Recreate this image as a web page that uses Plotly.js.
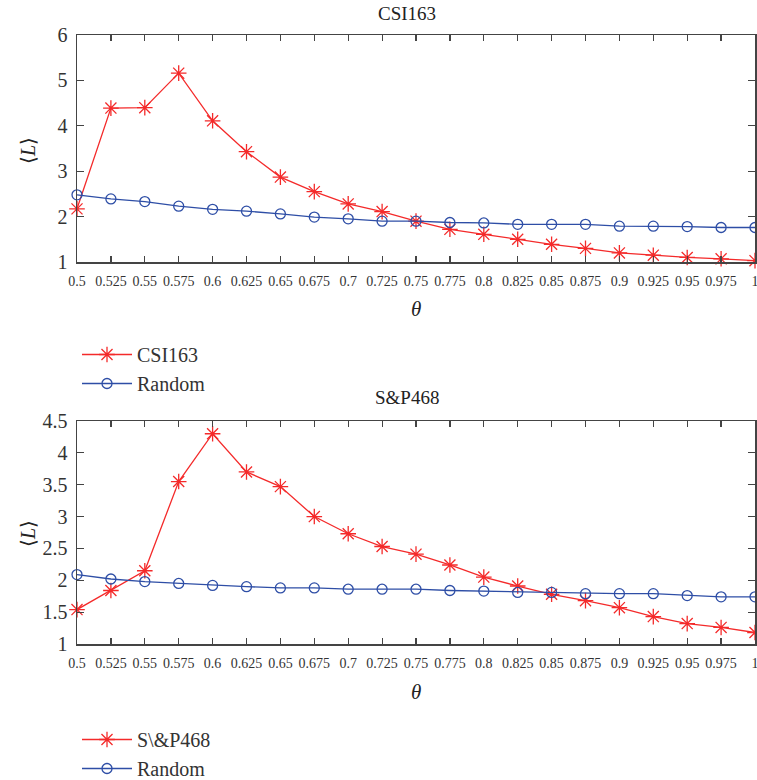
<!DOCTYPE html>
<html>
<head>
<meta charset="utf-8">
<script src="https://cdn.plot.ly/plotly-3.0.1.min.js"></script>
<style>html,body{margin:0;padding:0;background:#fff;}#chart{width:757px;height:780px;}</style>
</head>
<body>
<div id="chart"></div>
<script>
// ---- data ----
const theta = [0.5, 0.525, 0.55, 0.575, 0.6, 0.625, 0.65, 0.675, 0.7, 0.725, 0.75, 0.775, 0.8, 0.825, 0.85, 0.875, 0.9, 0.925, 0.95, 0.975, 1.0];
const thetaLabels = ["0.5","0.525","0.55","0.575","0.6","0.625","0.65","0.675","0.7","0.725","0.75","0.775","0.8","0.825","0.85","0.875","0.9","0.925","0.95","0.975","1"];
const csiValues = [2.17, 4.39, 4.40, 5.16, 4.11, 3.43, 2.87, 2.55, 2.28, 2.11, 1.90, 1.72, 1.61, 1.50, 1.39, 1.30, 1.20, 1.15, 1.10, 1.07, 1.03];
const csiRandom = [2.48, 2.39, 2.33, 2.23, 2.16, 2.12, 2.06, 1.99, 1.95, 1.90, 1.90, 1.87, 1.86, 1.83, 1.83, 1.83, 1.79, 1.79, 1.78, 1.76, 1.76];
const spValues = [1.54, 1.84, 2.15, 3.55, 4.30, 3.70, 3.47, 3.00, 2.73, 2.53, 2.41, 2.24, 2.05, 1.91, 1.78, 1.68, 1.57, 1.43, 1.32, 1.26, 1.18];
const spRandom = [2.09, 2.02, 1.98, 1.95, 1.92, 1.90, 1.88, 1.88, 1.86, 1.86, 1.86, 1.84, 1.83, 1.81, 1.81, 1.79, 1.79, 1.79, 1.76, 1.74, 1.74];
const topYTicks = [1, 2, 3, 4, 5, 6];
const botYTicks = [1, 1.5, 2, 2.5, 3, 3.5, 4, 4.5];
const topTitle = "CSI163";
const botTitle = "S&P468";
const topNames = ["CSI163", "Random"];
const botNames = ["S\\&P468", "Random"];

// ---- styles ----
const RED = "#f42a2a";
const BLUE = "#2e4ea6";
const AX = "#444444";
const FONT = "Liberation Serif, serif";
const W = 757, H = 780;
const px2y = p => 1 - p / H;

function series(x, y, name, color, symbol, size, xa, ya, legend) {
  return {
    x: x, y: y, name: name, type: "scatter", mode: "lines+markers",
    xaxis: xa, yaxis: ya, legend: legend, cliponaxis: false,
    line: {color: color, width: 1.3},
    marker: {symbol: symbol, size: size, color: color, line: {color: color, width: 1.3}}
  };
}

const data = [
  series(theta, csiValues, topNames[0], RED, "asterisk-open", 13, "x", "y", "legend"),
  series(theta, csiRandom, topNames[1], BLUE, "circle-open", 10, "x", "y", "legend"),
  series(theta, spValues, botNames[0], RED, "asterisk-open", 13, "x2", "y2", "legend2"),
  series(theta, spRandom, botNames[1], BLUE, "circle-open", 10, "x2", "y2", "legend2")
];

function xaxis(anchor) {
  return {
    anchor: anchor, domain: [0, 1], range: [0.5, 1.0],
    tickmode: "array", tickvals: theta, ticktext: thetaLabels,
    ticks: "inside", ticklen: 6, tickwidth: 1.2, tickcolor: AX,
    showline: true, linecolor: AX, linewidth: 1.5, mirror: "ticks",
    showgrid: false, zeroline: false, ticklabeloverflow: "allow",
    tickfont: {family: FONT, size: 14, color: "#333"}, ticklabelstandoff: 6
  };
}
function yaxis(anchor, dom, range, ticks) {
  return {
    anchor: anchor, domain: dom, range: range,
    tickmode: "array", tickvals: ticks,
    ticks: "inside", ticklen: 7, tickwidth: 1.2, tickcolor: AX,
    showline: true, linecolor: AX, linewidth: 1.5, mirror: "ticks",
    showgrid: false, zeroline: false,
    tickfont: {family: FONT, size: 20, color: "#333"}, ticklabelstandoff: 4
  };
}

const layout = {
  width: W, height: H,
  margin: {l: 77, r: 2, t: 0, b: 0, autoexpand: false},
  paper_bgcolor: "#fff", plot_bgcolor: "#fff",
  font: {family: FONT, color: "#333"},
  showlegend: true,
  xaxis: xaxis("y"),
  yaxis: yaxis("x", [px2y(262), px2y(35)], [1, 6], topYTicks),
  xaxis2: xaxis("y2"),
  yaxis2: yaxis("x2", [px2y(644), px2y(421)], [1, 4.5], botYTicks),
  legend: {x: 0, xanchor: "left", y: px2y(335), yanchor: "top", bgcolor: "rgba(0,0,0,0)",
           font: {family: FONT, size: 20, color: "#333"}, tracegroupgap: 0, itemwidth: 50},
  legend2: {x: 0, xanchor: "left", y: px2y(720), yanchor: "top", bgcolor: "rgba(0,0,0,0)",
           font: {family: FONT, size: 20, color: "#333"}, tracegroupgap: 0, itemwidth: 50},
  annotations: [
    {text: topTitle, xref: "paper", yref: "paper", x: 0.487, y: px2y(13), xanchor: "center", yanchor: "middle", showarrow: false, font: {family: FONT, size: 19, color: "#222"}},
    {text: botTitle, xref: "paper", yref: "paper", x: 0.487, y: px2y(397), xanchor: "center", yanchor: "middle", showarrow: false, font: {family: FONT, size: 19, color: "#222"}},
    {text: "<i>θ</i>", xref: "paper", yref: "paper", x: 0.5, y: px2y(309), xanchor: "center", yanchor: "middle", showarrow: false, font: {family: FONT, size: 21, color: "#222"}},
    {text: "<i>θ</i>", xref: "paper", yref: "paper", x: 0.5, y: px2y(692), xanchor: "center", yanchor: "middle", showarrow: false, font: {family: FONT, size: 21, color: "#222"}},
    {text: "⟨<i>L</i>⟩", xref: "paper", yref: "paper", x: (28 - 77) / 678, y: px2y(150), xanchor: "center", yanchor: "middle", textangle: -90, showarrow: false, font: {family: FONT, size: 20, color: "#222"}},
    {text: "⟨<i>L</i>⟩", xref: "paper", yref: "paper", x: (28 - 77) / 678, y: px2y(533), xanchor: "center", yanchor: "middle", textangle: -90, showarrow: false, font: {family: FONT, size: 20, color: "#222"}}
  ]
};

Plotly.newPlot("chart", data, layout, {displayModeBar: false, staticPlot: true});
</script>
</body>
</html>
